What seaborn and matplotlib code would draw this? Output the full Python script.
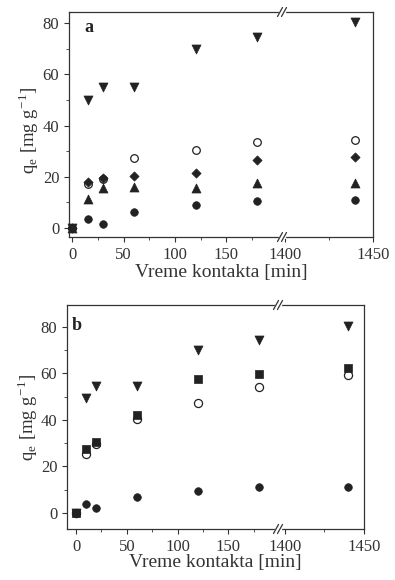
import matplotlib
matplotlib.use("Agg")
import matplotlib.pyplot as plt
import seaborn as sns
import pandas as pd
from matplotlib.ticker import FixedLocator

# panel a: contact time [min] and q_e [mg/g]
t_a = [0, 15, 30, 60, 120, 180, 1440]
a_tri_down = [0, 50, 55, 55, 70, 74.5, 80.5]
a_open = [0, 17, 19.2, 27.2, 30.5, 33.7, 34.5]
a_diamond = [0, 18.1, 19.4, 20.3, 21.4, 26.6, 27.9]
a_tri_up = [0, 11.3, 15.7, 16, 15.7, 17.4, 17.7]
a_circle = [0, 3.4, 1.6, 6.4, 9, 10.5, 10.9]

# panel b
t_b = [0, 10, 20, 60, 120, 180, 1440]
b_tri_down = [0, 49.5, 54.5, 54.5, 70, 74.5, 80.5]
b_open = [0, 25.4, 29.5, 40.4, 47.4, 54, 59.4]
b_square = [0, 27.5, 30.4, 41.9, 57.5, 59.8, 62.2]
b_circle = [0, 3.9, 2, 6.7, 9.2, 10.9, 11.3]

ink = "#222222"
W, H = 395, 580

sns.set_style("ticks")
plt.rcParams['font.family'] = ['Liberation Serif', 'DejaVu Serif']
plt.rcParams['mathtext.fontset'] = 'stix'

fig = plt.figure(figsize=(W / 100, H / 100), dpi=100)


def px_box(x0, x1, top, bot):
    return [x0 / W, (H - bot) / H, (x1 - x0) / W, (bot - top) / H]


def fig_line(xs, ys, **kw):
    fig.add_artist(plt.Line2D([x / W for x in xs], [1 - y / H for y in ys],
                              transform=fig.transFigure, **kw))


def draw_panel(times, series, box, brk, xlim_l, xlim_r, ylim, letter, letter_xy,
               xlabel_y, ylabel_xy):
    left, right, top, bot = box
    axl = fig.add_axes(px_box(left, brk, top, bot))
    axr = fig.add_axes(px_box(brk, right, top, bot), sharey=axl)

    for ax in (axl, axr):
        for vals, marker, ms, open_ in series:
            df = pd.DataFrame({"t": times, "q": vals})
            if open_:
                sns.scatterplot(data=df, x="t", y="q", ax=ax, marker=marker, s=ms,
                                color="white", edgecolor=ink, linewidth=0.9,
                                zorder=2, clip_on=False)
            else:
                sns.scatterplot(data=df, x="t", y="q", ax=ax, marker=marker, s=ms,
                                color=ink, edgecolor=ink, linewidth=0.5,
                                zorder=3, clip_on=False)
        ax.set_xlabel("")
        ax.set_ylabel("")
        for sp in ax.spines.values():
            sp.set_color("#333333")
            sp.set_linewidth(0.9)
        ax.tick_params(which="both", direction="out", colors="#333333",
                       labelsize=12, labelcolor="#333333")
        ax.tick_params(which="major", length=3.5, width=0.8)
        ax.tick_params(which="minor", length=2, width=0.6)

    axl.set_xlim(*xlim_l)
    axr.set_xlim(*xlim_r)
    axl.set_ylim(*ylim)

    axl.xaxis.set_major_locator(FixedLocator([0, 50, 100, 150]))
    axl.xaxis.set_minor_locator(FixedLocator([25, 75, 125, 175]))
    axr.xaxis.set_major_locator(FixedLocator([1400, 1450]))
    axr.xaxis.set_minor_locator(FixedLocator([1425]))
    axl.yaxis.set_major_locator(FixedLocator([0, 20, 40, 60, 80]))
    axl.yaxis.set_minor_locator(FixedLocator([10, 30, 50, 70]))

    axl.spines["right"].set_visible(False)
    axr.spines["left"].set_visible(False)
    axr.tick_params(axis="y", which="both", left=False, labelleft=False)

    # break marks "//" on top and bottom spines, with a gap in the spine
    for yy in (top, bot):
        fig_line([brk - 2, brk + 2], [yy, yy], color="white", lw=2.5, zorder=10)
        for dx in (-2, 2):
            fig_line([brk + dx - 2.5, brk + dx + 2.5], [yy + 4.5, yy - 4.5],
                     color="#333333", lw=0.9, zorder=11)

    fig.text(letter_xy[0] / W, 1 - letter_xy[1] / H, letter, fontsize=13,
             fontweight="bold", ha="center", va="center", color=ink)
    fig.text(((left + right) / 2) / W, 1 - xlabel_y / H, "Vreme kontakta [min]",
             fontsize=14, ha="center", va="center", color="#333333")
    fig.text(ylabel_xy[0] / W, 1 - ylabel_xy[1] / H,
             r"q$_\mathregular{e}$ [mg g$^\mathregular{-1}$]", rotation=90,
             fontsize=13.5, ha="center", va="center", color="#333333")


series_a = [
    (a_open, "o", 30, True),
    (a_tri_down, "v", 42, False),
    (a_diamond, "D", 22, False),
    (a_tri_up, "^", 42, False),
    (a_circle, "o", 30, False),
]
series_b = [
    (b_open, "o", 34, True),
    (b_tri_down, "v", 42, False),
    (b_square, "s", 30, False),
    (b_circle, "o", 30, False),
]

draw_panel(t_a, series_a, (69, 373, 12, 237), 282, (-3, 204), (1398.3, 1450),
           (-3.5, 84.3), "a", (89, 28), 272, (29, 130))
draw_panel(t_b, series_b, (67, 364, 305, 529), 278, (-9, 199), (1395.6, 1450),
           (-7, 89.5), "b", (77, 326), 562, (28, 417))

fig.savefig("out.png", dpi=100, facecolor="white")
